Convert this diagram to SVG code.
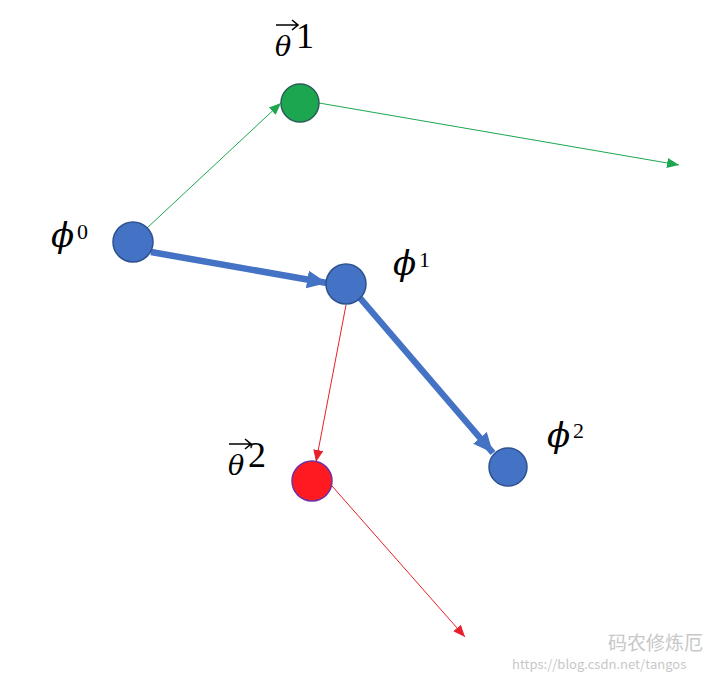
<svg xmlns="http://www.w3.org/2000/svg" width="716" height="674" viewBox="0 0 716 674">
<style>
.math{font-family:"DejaVu Serif","Liberation Serif",serif;font-style:italic;fill:#000}
.num{font-family:"Liberation Serif","DejaVu Serif",serif;fill:#000}
.vec{stroke:#000;stroke-width:1.6;fill:none}
.blue{fill:#4472C4;stroke:#2F528F;stroke-width:1.5}
.green{fill:#1DA650;stroke:#2A5F5A;stroke-width:1.5}
.red{fill:#FF1A22;stroke:#7030A0;stroke-width:1.5}
.lg{stroke:#1DA650;stroke-width:1;fill:none}
.lr{stroke:#E8202A;stroke-width:1;fill:none}
.lb{stroke:#4472C4;stroke-width:6.5;fill:none}
.wm{font-family:"Noto Sans CJK SC","Liberation Sans",sans-serif;fill:#c8c8c8}
</style>
<defs>
<marker id="ag" markerWidth="12" markerHeight="10" refX="12" refY="5" orient="auto" markerUnits="userSpaceOnUse"><path d="M0,0 L12,5 L0,10 Z" fill="#1DA650"/></marker>
<marker id="ar" markerWidth="12" markerHeight="10" refX="12" refY="5" orient="auto" markerUnits="userSpaceOnUse"><path d="M0,0 L12,5 L0,10 Z" fill="#E8202A"/></marker>
<marker id="ab" markerWidth="20" markerHeight="18" refX="20" refY="9" orient="auto" markerUnits="userSpaceOnUse"><path d="M0,0 L20,9 L0,18 Z" fill="#4472C4"/></marker>
</defs>
<rect width="716" height="674" fill="#fff"/>
<g id="connectors">
<line class="lg" x1="147" y1="228" x2="281" y2="103" marker-end="url(#ag)"/>
<line class="lg" x1="319" y1="103" x2="679" y2="165" marker-end="url(#ag)"/>
<line class="lb" x1="151" y1="252" x2="327" y2="283" marker-end="url(#ab)"/>
<line class="lb" x1="360" y1="298" x2="493" y2="453" marker-end="url(#ab)"/>
<line class="lr" x1="346" y1="305" x2="316" y2="462" marker-end="url(#ar)"/>
<line class="lr" x1="332" y1="486" x2="465" y2="637" marker-end="url(#ar)"/>
</g>
<g id="theta1">
<circle class="green" cx="300" cy="103" r="19"/>
<path class="vec" d="M276,25 H298 M292,20 L298,25 L292,30"/>
<text class="math" x="275" y="56" font-size="27">θ</text>
<text class="num" x="296" y="48" font-size="36">1</text>
</g>
<g id="phi0">
<circle class="blue" cx="133" cy="242" r="20"/>
<text class="math" x="51" y="247" font-size="34">ϕ</text>
<text class="num" x="77" y="239" font-size="22">0</text>
</g>
<g id="phi1">
<circle class="blue" cx="346" cy="284" r="20"/>
<text class="math" x="393" y="275" font-size="34">ϕ</text>
<text class="num" x="419" y="267" font-size="22">1</text>
</g>
<g id="phi2">
<circle class="blue" cx="508" cy="467" r="19"/>
<text class="math" x="547" y="447" font-size="34">ϕ</text>
<text class="num" x="573" y="438" font-size="22">2</text>
</g>
<g id="theta2">
<circle class="red" cx="312" cy="481" r="20"/>
<path class="vec" d="M229,444 H251 M245,439 L251,444 L245,449"/>
<text class="math" x="228" y="475" font-size="27">θ</text>
<text class="num" x="248" y="467" font-size="36">2</text>
</g>
<g id="watermark">
<text class="wm" x="608" y="650" font-size="19">码农修炼厄</text>
<text class="wm" x="512" y="669" font-size="13" font-family="Liberation Sans">https://blog.csdn.net/tangos</text>
</g>
</svg>
